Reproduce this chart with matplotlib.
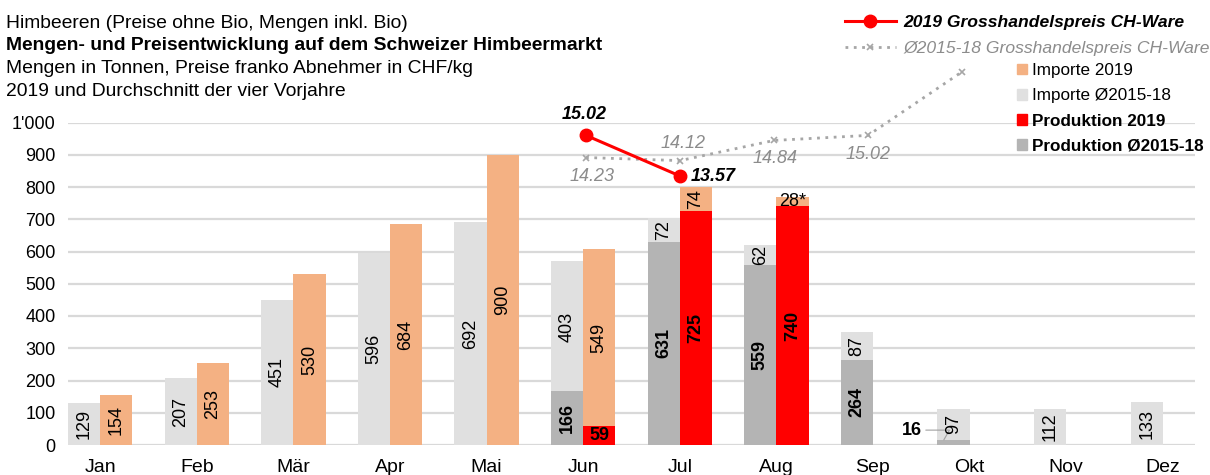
import matplotlib
matplotlib.use('Agg')
import matplotlib.pyplot as plt
import numpy as np
from matplotlib.lines import Line2D
from matplotlib.patches import Patch

plt.rcParams['font.family'] = ['Liberation Sans', 'DejaVu Sans']

# ---------------- data ----------------
months = ['Jan', 'Feb', 'Mär', 'Apr', 'Mai', 'Jun', 'Jul', 'Aug', 'Sep', 'Okt', 'Nov', 'Dez']
prod_avg = [0, 0, 0, 0, 0, 166, 631, 559, 264, 16, 0, 0]
imp_avg = [129, 207, 451, 596, 692, 403, 72, 62, 87, 97, 112, 133]
prod_2019 = [0, 0, 0, 0, 0, 59, 725, 740, 0, 0, 0, 0]
imp_2019 = [154, 253, 530, 684, 900, 549, 74, 28, 0, 0, 0, 0]
price_2019_idx = [5, 6]                 # Jun, Jul
price_2019 = [15.02, 13.57]
price_avg_idx = [5, 6, 7, 8, 9]          # Jun..Okt
price_avg = [14.23, 14.12, 14.84, 15.02, 17.29]
yticks = [0, 100, 200, 300, 400, 500, 600, 700, 800, 900, 1000]
ytick_labels = ['0', '100', '200', '300', '400', '500', '600', '700', '800', '900', "1'000"]
title_lines = ['Himbeeren (Preise ohne Bio, Mengen inkl. Bio)',
               'Mengen- und Preisentwicklung auf dem Schweizer Himbeermarkt',
               'Mengen in Tonnen, Preise franko Abnehmer in CHF/kg',
               '2019 und Durchschnitt der vier Vorjahre']

# ---------------- colours ----------------
C_IMP19 = '#F4B183'
C_IMPAVG = '#E0E0E0'
C_PROD19 = '#FF0000'
C_PRODAVG = '#B4B4B4'
C_GRID = '#D9D9D9'
C_AVGLINE = '#A6A6A6'
C_AVGTXT = '#8C8C8C'

W, H = 1210, 475
fig = plt.figure(figsize=(W / 100, H / 100), dpi=100)
ax_rect = [68 / W, 30 / H, 1127 / W, 322.5 / H]
ax = fig.add_axes(ax_rect)

x = np.arange(len(months))
w = 1 / 3

prod_avg_a = np.array(prod_avg)
imp_avg_a = np.array(imp_avg)
prod_19_a = np.array(prod_2019)
imp_19_a = np.array(imp_2019)

xa = x - w / 2
xb = x + w / 2
ax.bar(xa, prod_avg_a, w, color=C_PRODAVG, zorder=2)
ax.bar(xa, imp_avg_a, w, bottom=prod_avg_a, color=C_IMPAVG, zorder=2)
ax.bar(xb, prod_19_a, w, color=C_PROD19, zorder=2)
ax.bar(xb, imp_19_a, w, bottom=prod_19_a, color=C_IMP19, zorder=2)

ax.set_xlim(-w, len(months) - 1 + w)
ax.set_ylim(0, 1000)
ax.set_yticks(yticks)
ax.set_yticklabels(ytick_labels)
ax.set_xticks(x)
ax.set_xticklabels(months)
ax.tick_params(axis='both', length=0, colors='black')
ax.tick_params(axis='y', pad=9, labelsize=13)
ax.tick_params(axis='x', pad=10, labelsize=14)
for s in ax.spines.values():
    s.set_visible(False)
ax.yaxis.grid(True, color=C_GRID, lw=1.6)
ax.set_axisbelow(True)

FS = 13
# bar labels
for i in range(len(months)):
    # avg production
    v = prod_avg[i]
    if v >= 100:
        ax.text(xa[i], v / 2, str(v), rotation=90, ha='center', va='center',
                fontsize=FS, fontweight='bold', zorder=5)
    elif v > 0:
        ax.annotate(str(v), xy=(xa[i] - w * 0.3, v), xytext=(-16, 7),
                    textcoords='offset points', ha='right', va='center',
                    fontsize=FS, fontweight='bold',
                    arrowprops=dict(arrowstyle='-', color='#A0A0A0', lw=0.8,
                                    connectionstyle='angle,angleA=0,angleB=60,rad=0',
                                    shrinkA=1, shrinkB=0))
    # avg imports
    v = imp_avg[i]
    if v > 0:
        ax.text(xa[i], prod_avg[i] + v / 2, str(v), rotation=90, ha='center', va='center',
                fontsize=FS, zorder=5)
    # 2019 production
    v = prod_2019[i]
    if v >= 100:
        ax.text(xb[i], v / 2, str(v), rotation=90, ha='center', va='center',
                fontsize=FS, fontweight='bold', zorder=5)
    elif v > 0:
        ax.text(xb[i], v / 2, str(v), ha='center', va='center',
                fontsize=FS, fontweight='bold', zorder=5)
    # 2019 imports
    v = imp_2019[i]
    if v >= 50:
        ax.text(xb[i], prod_2019[i] + v / 2, str(v), rotation=90, ha='center', va='center',
                fontsize=FS, zorder=5)
    elif v > 0:
        ax.text(xb[i], prod_2019[i] + v / 2, str(v) + '*', ha='center', va='center',
                fontsize=FS, zorder=5)

# ---------------- price lines (secondary axes) ----------------
ax2 = fig.add_axes(ax_rect, facecolor='none')
ax2.set_xlim((68 - 116) / 94, (1195 - 116) / 94)
ax2.set_ylim(3.97, 15.48)
ax2.axis('off')

ax2.plot(price_avg_idx, price_avg, color=C_AVGLINE, lw=2, ls=(0, (1, 2)),
         marker='x', ms=5, mew=1.2, clip_on=False, zorder=3)
ax2.plot(price_2019_idx, price_2019, color=C_PROD19, lw=2.2, marker='o', ms=9,
         clip_on=False, zorder=4)

avg_offsets = [(4, -14), (2, 12), (1, -13), (0, -14), (-3, -15)]
for xi, p, off in zip(price_avg_idx, price_avg, avg_offsets):
    ax2.annotate(f'{p:.2f}', xy=(xi, p), xytext=off, textcoords='offset points',
                 ha='center', va='center', fontsize=FS, style='italic', color=C_AVGTXT)

ax2.annotate(f'{price_2019[0]:.2f}', xy=(price_2019_idx[0], price_2019[0]), xytext=(-1, 15),
             textcoords='offset points', ha='center', va='center', fontsize=FS,
             style='italic', fontweight='bold', color='black')
ax2.annotate(f'{price_2019[1]:.2f}', xy=(price_2019_idx[1], price_2019[1]), xytext=(8, 0),
             textcoords='offset points', ha='left', va='center', fontsize=FS,
             style='italic', fontweight='bold', color='black')

# ---------------- titles ----------------
for k, t in enumerate(title_lines):
    fig.text(6 / W, 1 - (23 + 22.7 * k) / H, t, ha='left', va='center', fontsize=13.9,
             fontweight='bold' if k == 1 else 'normal')

# ---------------- legends ----------------
line_handles = [Line2D([], [], color=C_PROD19, lw=2.2, marker='o', ms=9),
                Line2D([], [], color=C_AVGLINE, lw=2, ls=(0, (1, 2)), marker='x', ms=5, mew=1.2)]
leg1 = fig.legend(line_handles, ['2019 Grosshandelspreis CH-Ware', 'Ø2015-18 Grosshandelspreis CH-Ware'],
                  loc='upper left', bbox_to_anchor=(845 / W, 1 - 15 / H), frameon=False,
                  fontsize=12.6, handlelength=2.9, handletextpad=0.45, labelspacing=0.62,
                  borderpad=0, borderaxespad=0)
t1, t2 = leg1.get_texts()
t1.set_fontweight('bold'); t1.set_style('italic')
t2.set_style('italic'); t2.set_color(C_AVGTXT)

bar_handles = [Patch(color=C_IMP19), Patch(color=C_IMPAVG), Patch(color=C_PROD19), Patch(color=C_PRODAVG)]
leg2 = fig.legend(bar_handles, ['Importe 2019', 'Importe Ø2015-18', 'Produktion 2019', 'Produktion Ø2015-18'],
                  loc='upper left', bbox_to_anchor=(1017 / W, 1 - 63 / H), frameon=False,
                  fontsize=12.3, handlelength=0.6, handleheight=0.6, handletextpad=0.3,
                  labelspacing=0.6, borderpad=0, borderaxespad=0)
for t in leg2.get_texts()[2:]:
    t.set_fontweight('bold')

fig.savefig('out.png', dpi=100)
